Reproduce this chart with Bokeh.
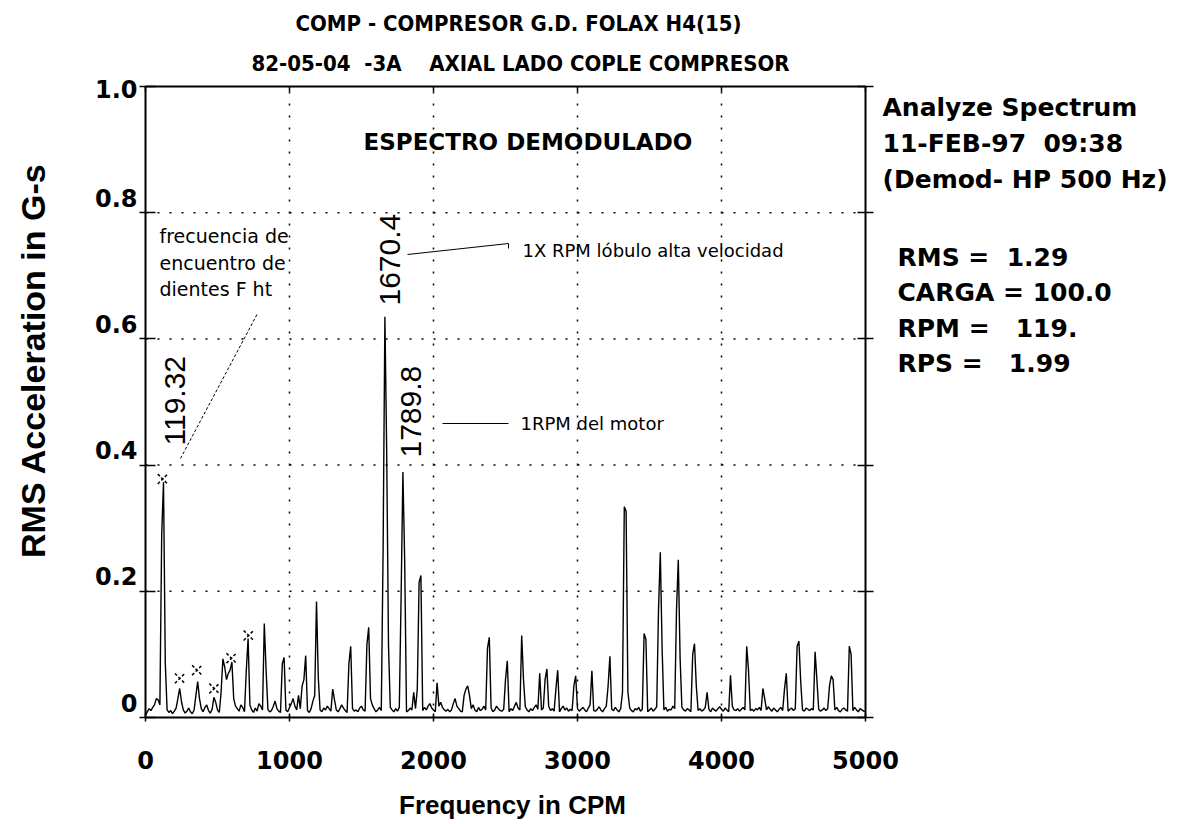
import numpy as np
from bokeh.plotting import figure
from bokeh.models import Range1d, FixedTicker, LinearAxis, Label, ColumnDataSource, CustomJSTickFormatter
from bokeh.core.properties import value
from bokeh.embed import file_html
from bokeh.resources import INLINE

NB = "\u00a0"  # keeps the original's repeated spaces visible in SVG text

# ---------------- data ----------------
title_lines = ["COMP - COMPRESOR G.D. FOLAX H4(15)",
               "82-05-04 " + NB + "-3A " + NB * 3 + "AXIAL LADO COPLE COMPRESOR"]
x_ticks = [0, 1000, 2000, 3000, 4000, 5000]
y_ticks = [0, 0.2, 0.4, 0.6, 0.8, 1.0]
y_tick_labels = ["0", "0.2", "0.4", "0.6", "0.8", "1.0"]
x_label = "Frequency in CPM"
y_label = "RMS Acceleration in G-s"

bin_step = 12.5  # CPM per spectral line (400 lines / 5000 CPM)
noise_floor_mg = [
    4, 9, 14, 11, 16, 20, 30, 24, 16, 20, 20, 20, 12, 8, 11, 6, 10, 15, 25, 40,
    28, 12, 7, 10, 15, 9, 6, 12, 30, 40, 32, 14, 9, 16, 20, 11, 7, 13, 28, 24,
    12, 8, 18, 32, 25, 20, 12, 22, 35, 30, 18, 14, 10, 20, 16, 9, 14, 38, 20, 12,
    8, 15, 10, 22, 18, 12, 30, 24, 13, 9, 11, 18, 26, 14, 10, 8, 15, 20, 12, 9,
    16, 22, 30, 18, 12, 24, 14, 9, 20, 15, 11, 8, 14, 26, 35, 28, 18, 12, 9, 15,
    12, 18, 14, 10, 16, 28, 12, 9, 14, 20, 15, 11, 8, 19, 22, 14, 10, 12, 9, 15,
    18, 12, 10, 14, 24, 30, 20, 14, 9, 12, 16, 11, 15, 28, 45, 24, 16, 12, 9, 14,
    10, 16, 12, 20, 14, 9, 11, 15, 12, 10, 14, 18, 13, 9, 11, 16, 12, 18, 22, 15,
    12, 9, 14, 18, 24, 16, 12, 10, 13, 9, 12, 22, 30, 18, 14, 10, 9, 12, 16, 11,
    10, 14, 20, 12, 9, 16, 11, 13, 18, 12, 10, 8, 15, 9, 12, 18, 14, 11, 10, 13,
    16, 12, 9, 14, 11, 18, 24, 15, 12, 10, 13, 17, 12, 9, 14, 11, 16, 20, 13, 10,
    12, 15, 9, 13, 18, 11, 14, 10, 16, 12, 9, 14, 18, 12, 15, 10, 13, 11, 16, 12,
    14, 10, 13, 16, 12, 9, 15, 20, 14, 11, 10, 13, 17, 12, 9, 14, 18, 12, 10, 13,
    11, 16, 12, 9, 14, 18, 12, 10, 13, 15, 11, 9, 14, 12, 16, 10, 13, 18, 12, 9,
    12, 15, 10, 13, 17, 11, 9, 14, 12, 16, 10, 13, 12, 18, 14, 11, 9, 13, 16, 12,
    10, 14, 12, 9, 15, 18, 13, 11, 14, 10, 12, 16, 11, 13, 9, 15, 12, 10, 14, 17,
    13, 10, 15, 12, 9, 14, 18, 12, 11, 14, 10, 13, 16, 12, 9, 15, 11, 13, 10, 14,
    12, 16, 11, 9, 14, 12, 17, 13, 10, 15, 12, 9, 13, 16, 11, 14, 12, 10, 13, 15,
    11, 14, 9, 13, 16, 12, 10, 15, 13, 11, 14, 12, 9, 16, 13, 10, 12, 15, 11, 14,
    13, 10, 14, 12, 16, 11, 9, 13, 15, 12, 10, 14, 13, 11, 16, 12, 9, 14, 12, 10,
    9,
]
peak_freqs = [
    75, 87.5, 100, 112.5, 125, 137.5, 150,
    225, 237.5, 250, 350, 362.5, 375, 475,
    525, 537.5, 550, 562.5, 575, 587.5, 600, 612.5,
    700, 712.5, 725, 825, 837.5, 950, 962.5,
    1062.5, 1087.5, 1100, 1112.5, 1187.5, 1200, 1300,
    1412.5, 1425, 1537.5, 1550,
    1650, 1662.5, 1675, 1687.5, 1775, 1787.5, 1800,
    1862.5, 1887.5, 1900, 1912.5, 2025,
    2212.5, 2225, 2237.5, 2250, 2375, 2387.5, 2500, 2512.5,
    2612.5, 2625, 2737.5, 2775, 2787.5, 2850, 2862.5, 2975, 2987.5,
    3100, 3212.5, 3225, 3312.5, 3325, 3337.5, 3350, 3462.5, 3475,
    3562.5, 3575, 3587.5, 3687.5, 3700, 3712.5, 3800, 3812.5, 3825, 3900,
    4062.5, 4175, 4187.5, 4287.5, 4300, 4437.5, 4450,
    4525, 4537.5, 4550, 4650, 4662.5, 4750, 4762.5, 4775, 4887.5, 4900,
]
peak_amps = [
    0.030, 0.028, 0.020, 0.290, 0.373, 0.086, 0.012,
    0.030, 0.046, 0.025, 0.035, 0.057, 0.030, 0.032,
    0.040, 0.093, 0.080, 0.060, 0.070, 0.075, 0.088, 0.030,
    0.075, 0.125, 0.020, 0.149, 0.075, 0.085, 0.095,
    0.035, 0.050, 0.060, 0.098, 0.184, 0.063, 0.045,
    0.085, 0.113, 0.115, 0.143,
    0.265, 0.635, 0.420, 0.114, 0.190, 0.389, 0.246,
    0.040, 0.045, 0.214, 0.225, 0.055,
    0.035, 0.045, 0.050, 0.035, 0.110, 0.127, 0.060, 0.090,
    0.130, 0.060, 0.070, 0.060, 0.077, 0.045, 0.075, 0.050, 0.066,
    0.074, 0.050, 0.097, 0.040, 0.334, 0.327, 0.040, 0.133, 0.124,
    0.170, 0.262, 0.110, 0.170, 0.250, 0.094, 0.100, 0.117, 0.050, 0.040,
    0.067, 0.113, 0.075, 0.046, 0.030, 0.045, 0.070,
    0.113, 0.121, 0.057, 0.104, 0.060, 0.050, 0.066, 0.060, 0.113, 0.100,
]
harmonic_freqs = [119.32, 238.64, 357.96, 477.28, 596.60, 715.92]
harmonic_marker_amps = [0.378, 0.062, 0.075, 0.046, 0.094, 0.130]

peak_label_text = ["119.32", "1670.4", "1789.8"]
peak_label_freqs = [119.32, 1670.4, 1789.8]

info_lines = ["Analyze Spectrum", "11-FEB-97 " + NB + "09:38", "(Demod- HP 500 Hz)"]
stats_lines = ["RMS = " + NB + "1.29", "CARGA = 100.0",
               "RPM = " + NB * 2 + "119.", "RPS = " + NB * 2 + "1.99"]
note_lines = ["frecuencia de", "encuentro de", "dientes F ht"]

# ---------------- layout (pixels of the 1199x824 page) ----------------
W, H = 1199, 824
PX_LEFT, PX_RIGHT = 145, 865      # x = 0 and x = 5000
PX_TOP, PX_ZERO = 86, 717          # y = 1.0 and y = 0
X_MAX, Y_MAX = 5000, 1.0
sx = (PX_RIGHT - PX_LEFT) / X_MAX
sy = (PX_ZERO - PX_TOP) / Y_MAX


def dx(px):
    return (px - PX_LEFT) / sx


def dy(py):
    return (PX_ZERO - py) / sy


# ---------------- build spectrum ----------------
assert len(noise_floor_mg) == 401
amps = np.array(noise_floor_mg, dtype=float) / 1000.0
for f, a in zip(peak_freqs, peak_amps):
    amps[int(round(f / bin_step))] = a
freqs = np.arange(len(amps)) * bin_step
src = ColumnDataSource(dict(f=freqs, a=amps))

BOLD_FONT = "DejaVu Sans"
ARIAL = "Liberation Sans"
NARROW = "'Liberation Sans Narrow', 'DejaVu Sans Condensed', sans-serif"

p = figure(frame_width=W, frame_height=H,
           x_range=Range1d(dx(0), dx(W)), y_range=Range1d(dy(H), dy(0)),
           x_axis_location=None, y_axis_location=None,
           output_backend="svg", toolbar_location=None, min_border=0)
p.outline_line_color = None
p.background_fill_color = "white"
p.border_fill_color = "white"
p.xgrid.grid_line_color = None
p.ygrid.grid_line_color = None


def axis(ticks, loc, bounds, tin, tout, labels=False):
    ax = LinearAxis(ticker=FixedTicker(ticks=ticks), fixed_location=loc, bounds=bounds,
                    axis_line_width=2, axis_line_color="black",
                    major_tick_in=tin, major_tick_out=tout,
                    major_tick_line_color="black", major_tick_line_width=1.5,
                    minor_tick_line_color=None)
    if labels:
        ax.major_label_text_font = BOLD_FONT
        ax.major_label_text_font_style = "bold"
        ax.major_label_text_font_size = "24px"
        ax.major_label_text_color = "black"
        ax.major_label_standoff = 29
        ax.formatter = CustomJSTickFormatter(code="return String(Math.round(tick));")
    else:
        ax.major_label_text_color = None
    return ax


p.add_layout(axis(x_ticks, 0, (0, X_MAX), 4, 4, labels=True), "below")
p.add_layout(axis(x_ticks, Y_MAX, (0, X_MAX), 5, 0), "above")
p.add_layout(axis(y_ticks, 0, (0, Y_MAX), 10, 6), "left")
p.add_layout(axis(y_ticks, X_MAX, (0, Y_MAX), 8, 8), "right")

# dotted grid
gx = [t for t in x_ticks if 0 < t < X_MAX]
gy = [t for t in y_ticks if 0 < t < Y_MAX]
p.segment(x0=gx, y0=[0] * len(gx), x1=gx, y1=[Y_MAX] * len(gx),
          line_color="black", line_width=1.5, line_dash="2 10")
p.segment(x0=[0] * len(gy), y0=gy, x1=[X_MAX] * len(gy), y1=gy,
          line_color="black", line_width=1.5, line_dash="2 10")

# y tick labels (drawn slightly above their gridline, as in the original)
y_label_raise_px = [15, 15, 15, 15, 15, -2]
p.text(x=[0] * len(y_ticks),
       y=[t + r / sy for t, r in zip(y_ticks, y_label_raise_px)],
       text=y_tick_labels, x_offset=-8, text_align="right", text_baseline="middle",
       text_font=value(BOLD_FONT), text_font_style="bold", text_font_size="24px",
       text_color="black")

# spectrum
p.line("f", "a", source=src, line_color="black", line_width=1.4)

# harmonic cursor markers
p.scatter(harmonic_freqs, harmonic_marker_amps, marker="x", size=14,
          line_color="black", line_width=1.5, line_dash="3 2")

# rotated peak labels (bottom of each label in page pixels)
p.text(x=peak_label_freqs, y=[dy(445), dy(305), dy(457)], text=peak_label_text,
       angle=np.pi / 2, x_offset=[12, 4, 8],
       text_align="left", text_baseline="middle",
       text_font=value(ARIAL), text_font_size="30px", text_color="black")

# leader lines
p.segment(x0=[dx(180)], y0=[dy(458)], x1=[dx(257)], y1=[dy(313)],
          line_color="black", line_width=1, line_dash="3 2")
p.line([dx(407), dx(508), dx(508)], [dy(254), dy(243), dy(248)],
       line_color="black", line_width=1)
p.segment(x0=[dx(442)], y0=[dy(423)], x1=[dx(508)], y1=[dy(423)],
          line_color="black", line_width=1)


def add_label(px, py, text, size, bold=False, font=BOLD_FONT, align="left", angle=0):
    p.add_layout(Label(x=dx(px), y=dy(py), text=text, text_font=font,
                       text_font_size=size, text_align=align,
                       text_baseline="middle", angle=angle,
                       text_font_style="bold" if bold else "normal",
                       text_color="black"))


# in-plot annotations
add_label(363, 141, "ESPECTRO DEMODULADO", "23px", bold=True)
for txt, py in zip(note_lines, [235, 262, 288]):
    add_label(159, py, txt, "19px")
add_label(522, 250, "1X RPM lóbulo alta velocidad", "18px")
add_label(520, 423, "1RPM del motor", "18px")

# titles
add_label(518, 23, title_lines[0], "22px", bold=True, font=NARROW, align="center")
add_label(520, 63, title_lines[1], "22px", bold=True, font=NARROW, align="center")

# axis titles
add_label(512, 804, x_label, "26px", bold=True, font=ARIAL, align="center")
add_label(32, 360, y_label, "34px", bold=True, font=ARIAL, align="center", angle=np.pi / 2)

# right-hand info panel
for txt, py in zip(info_lines, [107, 143, 179]):
    add_label(882, py, txt, "25px", bold=True)
for txt, py in zip(stats_lines, [257, 292, 328, 363]):
    add_label(897, py, txt, "25px", bold=True)

open("out.html", "w").write(file_html(p, INLINE))
